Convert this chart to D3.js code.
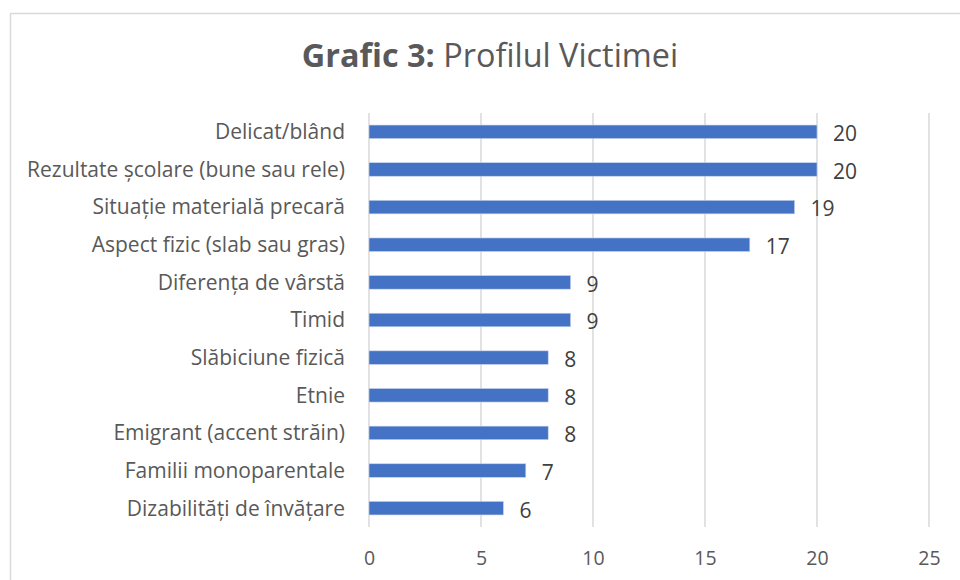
<!DOCTYPE html>
<html>
<head>
<meta charset="utf-8">
<script src="https://cdn.jsdelivr.net/npm/d3@7"></script>
<style>
  body { margin: 0; background: #fff; }
  svg { display: block; font-family: "Open Sans", sans-serif; }
</style>
</head>
<body>
<div id="chart"></div>
<script>
const categories = [
  "Delicat/blând",
  "Rezultate școlare (bune sau rele)",
  "Situație materială precară",
  "Aspect fizic (slab sau gras)",
  "Diferența de vârstă",
  "Timid",
  "Slăbiciune fizică",
  "Etnie",
  "Emigrant (accent străin)",
  "Familii monoparentale",
  "Dizabilități de învățare"
]
const values = [20, 20, 19, 17, 9, 9, 8, 8, 8, 7, 6]
const xTicks = [0, 5, 10, 15, 20, 25]

const width = 960, height = 580
const margin = { top: 113, right: 31, bottom: 53, left: 369 }

const svg = d3.select("#chart").append("svg")
  .attr("width", width)
  .attr("height", height)

// chart border (cut off at right / bottom like the screenshot)
svg.append("rect")
  .attr("x", 10.5).attr("y", 13.5)
  .attr("width", 1000).attr("height", 1000)
  .attr("fill", "none")
  .attr("stroke", "#d9d9d9")
  .attr("stroke-width", 1.5)

const title = svg.append("text")
  .attr("x", 490).attr("y", 67)
  .attr("text-anchor", "middle")
  .attr("fill", "#595959")
  .style("font-size", "32.4px")
title.append("tspan").attr("font-weight", "bold").text("Grafic 3:")
title.append("tspan").text(" Profilul Victimei")

const x = d3.scaleLinear()
  .domain([0, 25])
  .range([margin.left, width - margin.right])

const y = d3.scaleBand()
  .domain(categories)
  .range([margin.top, height - margin.bottom])
  .paddingInner(0.64)
  .paddingOuter(0.32)

// gridlines
svg.append("g")
  .selectAll("line")
  .data(xTicks)
  .join("line")
  .attr("x1", d => x(d)).attr("x2", d => x(d))
  .attr("y1", margin.top).attr("y2", height - margin.bottom)
  .attr("stroke", "#d9d9d9")
  .attr("stroke-width", 1.5)

// x axis labels
const xAxis = svg.append("g")
  .attr("transform", `translate(0,${height - margin.bottom})`)
  .call(d3.axisBottom(x).tickValues(xTicks).tickSize(0).tickPadding(24))
xAxis.select(".domain").remove()
xAxis.selectAll("text")
  .attr("fill", "#595959")
  .style("font-size", "19.5px")
  .style("font-family", "Open Sans, sans-serif")

// y axis labels
const yAxis = svg.append("g")
  .attr("transform", `translate(${margin.left},0)`)
  .call(d3.axisLeft(y).tickSize(0).tickPadding(24))
yAxis.select(".domain").remove()
yAxis.selectAll("text")
  .attr("fill", "#595959")
  .attr("dy", "0.35em")
  .style("font-size", "21px")
  .style("font-family", "Open Sans, sans-serif")

// bars
svg.append("g")
  .selectAll("rect")
  .data(values)
  .join("rect")
  .attr("x", x(0))
  .attr("y", (d, i) => y(categories[i]))
  .attr("width", d => x(d) - x(0))
  .attr("height", y.bandwidth())
  .attr("fill", "#4472c4")
  .attr("stroke", "#c5d3ee")
  .attr("stroke-width", 0.6)

// data labels
svg.append("g")
  .selectAll("text")
  .data(values)
  .join("text")
  .attr("x", d => x(d) + 16)
  .attr("y", (d, i) => y(categories[i]) + y.bandwidth() / 2 + 2)
  .attr("dy", "0.35em")
  .attr("fill", "#404040")
  .style("font-size", "21px")
  .text(d => d)
</script>
</body>
</html>
